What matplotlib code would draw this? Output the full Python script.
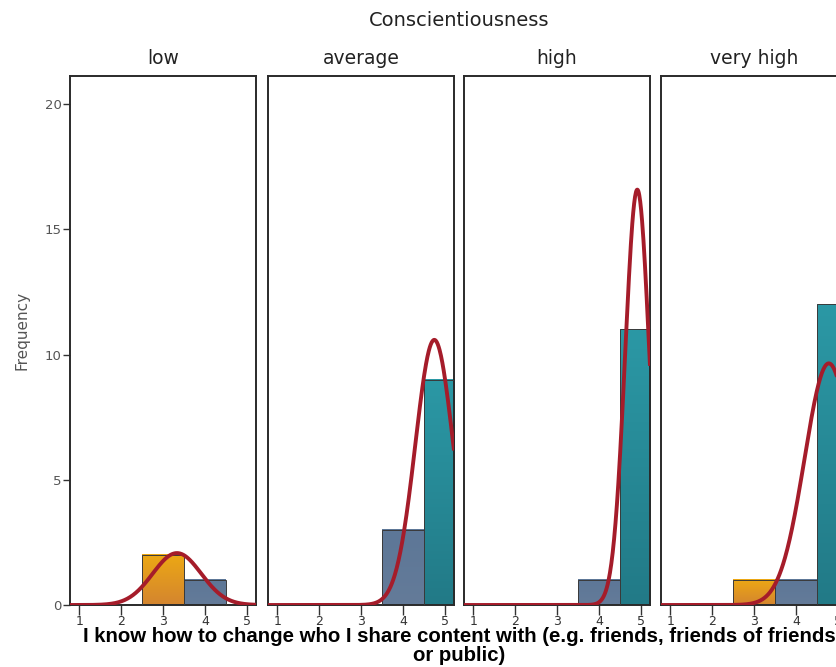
import numpy as np
import matplotlib.pyplot as plt
from matplotlib.colors import to_rgb
from matplotlib.patches import Rectangle

# Frequency counts of responses (1-5) for each conscientiousness level
groups = ["low", "average", "high", "very high"]
scores = [1, 2, 3, 4, 5]
counts_low = [0, 0, 2, 1, 0]
counts_average = [0, 0, 0, 3, 9]
counts_high = [0, 0, 0, 1, 11]
counts_very_high = [0, 0, 1, 1, 12]
all_counts = [counts_low, counts_average, counts_high, counts_very_high]
yticks = [0, 5, 10, 15, 20]

facet_title = "Conscientiousness"
y_label = "Frequency"
x_label = ("I know how to change who I share content with (e.g. friends, friends of friends\n"
           "or public)")

# gradient colours per response value (top, bottom)
bar_top = {3: "#ECA814", 4: "#5D7797", 5: "#2B98A5"}
bar_bottom = {3: "#D4852F", 4: "#647B99", 5: "#227A87"}
curve_color = "#A51C2A"

plt.rcParams["font.family"] = ["DejaVu Sans"]

W, H = 837, 667
fig = plt.figure(figsize=(W / 100, H / 100), dpi=100)
fig.patch.set_facecolor("white")

panel_left_px = [70, 268, 464, 661]
panel_w_px = 186
top_px, bottom_px = 76, 605
xlim = (0.78, 5.22)
ylim = (0, 21.12)


def gradient_bar(ax, x, h, value):
    c1 = np.array(to_rgb(bar_top[value]))
    c2 = np.array(to_rgb(bar_bottom[value]))
    t = np.linspace(0, 1, 64)[:, None]
    img = (c1 * (1 - t) + c2 * t)[:, None, :]
    img = np.repeat(img, 4, axis=1)
    ax.imshow(img, extent=[x - 0.5, x + 0.5, 0, h], origin="upper",
              aspect="auto", zorder=2, interpolation="bilinear")
    ax.add_patch(Rectangle((x - 0.5, 0), 1, h, fill=False,
                           edgecolor="#3a3a3a", linewidth=0.7, zorder=3))


for i, (grp, cnts) in enumerate(zip(groups, all_counts)):
    ax = fig.add_axes([panel_left_px[i] / W, 1 - bottom_px / H,
                       panel_w_px / W, (bottom_px - top_px) / H])
    for s, c in zip(scores, cnts):
        if c > 0:
            gradient_bar(ax, s, c, s)

    # fitted normal curve scaled to counts
    vals = np.repeat(scores, cnts)
    n = len(vals)
    mu = vals.mean()
    sd = vals.std(ddof=1)
    xs = np.linspace(xlim[0], xlim[1], 400)
    ys = n / (sd * np.sqrt(2 * np.pi)) * np.exp(-0.5 * ((xs - mu) / sd) ** 2)
    ax.plot(xs, ys, color=curve_color, linewidth=2.8, zorder=4,
            solid_capstyle="butt")

    ax.set_xlim(*xlim)
    ax.set_ylim(*ylim)
    ax.set_xticks(scores)
    ax.set_xticklabels([str(s) for s in scores])
    ax.tick_params(axis="x", direction="out", length=7, width=1,
                   color="#333333", labelsize=9, labelcolor="#333333", pad=0)
    if i == 0:
        ax.set_yticks(yticks)
        ax.set_yticklabels([str(v) for v in yticks])
        ax.tick_params(axis="y", direction="out", length=5, width=1,
                       color="#333333", labelsize=9.5, labelcolor="#555555", pad=1)
    else:
        ax.set_yticks([])
    for sp in ax.spines.values():
        sp.set_color("#2a2a2a")
        sp.set_linewidth(1.4)
    ax.text(0.5, 1 + 18 / (bottom_px - top_px), grp, transform=ax.transAxes,
            ha="center", va="center", fontsize=13.5, color="#222222")

fig.text(459 / W, 1 - 20 / H, facet_title, ha="center", va="center",
         fontsize=14, color="#222222")
fig.text(22 / W, 1 - 330 / H, y_label, ha="center", va="center",
         rotation=90, fontsize=11, color="#555555")
fig.text(459 / W, 1 - 646 / H, x_label, ha="center", va="center",
         fontsize=14.7, fontweight="bold", color="black", linespacing=1.0,
         family=["Liberation Sans", "DejaVu Sans"])

fig.savefig("out.png", dpi=100, facecolor="white")
